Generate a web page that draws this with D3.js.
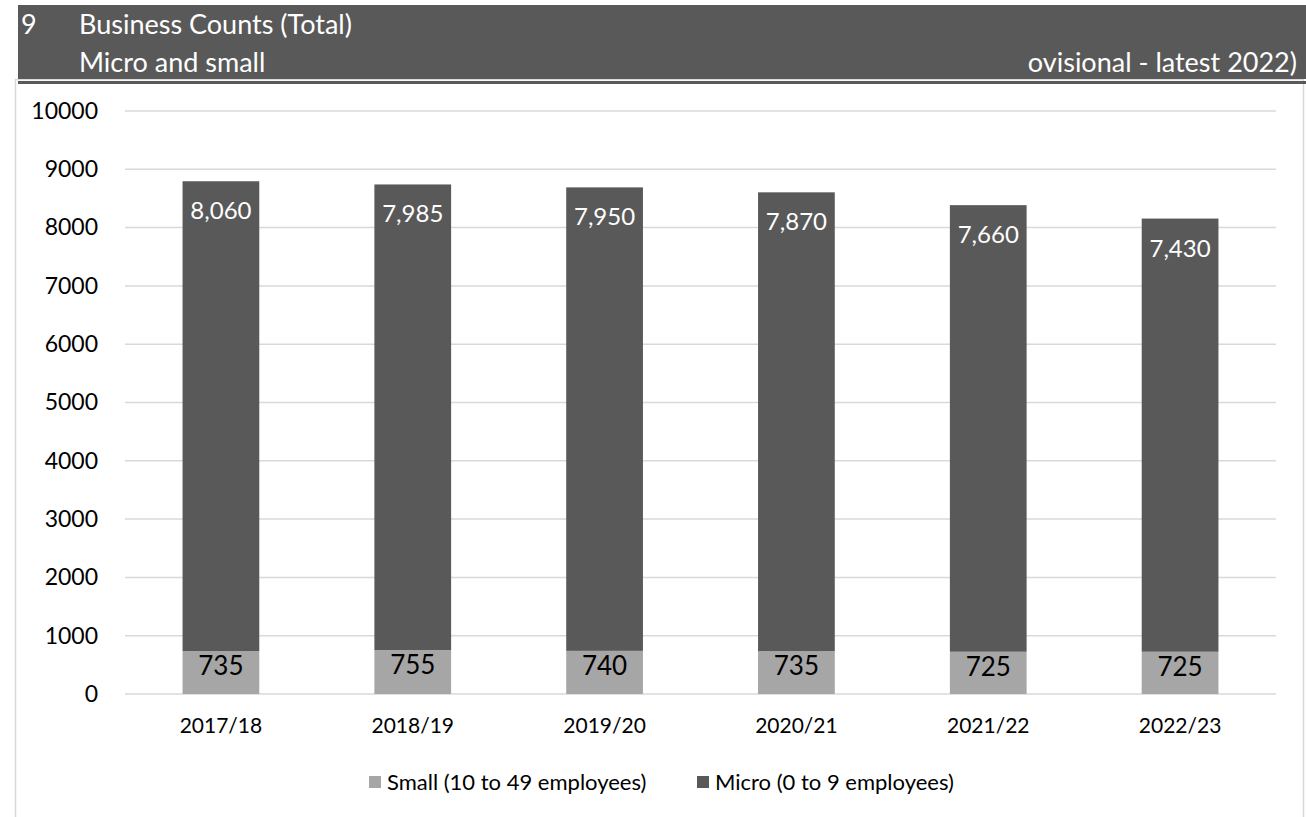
<!DOCTYPE html>
<html>
<head>
<meta charset="utf-8">
<script src="https://cdn.jsdelivr.net/npm/d3@7"></script>
<style>
  html, body { margin: 0; padding: 0; background: #ffffff; }
  svg { display: block; font-family: Lato, "Open Sans", sans-serif; }
</style>
</head>
<body>
<svg id="chart" width="1306" height="817"></svg>
<script>
// ---- data ----
const categories = ["2017/18", "2018/19", "2019/20", "2020/21", "2021/22", "2022/23"];
const smallValues = [735, 755, 740, 735, 725, 725];
const microValues = [8060, 7985, 7950, 7870, 7660, 7430];
const seriesNames = ["Small (10 to 49 employees)", "Micro (0 to 9 employees)"];
const yTicks = [0, 1000, 2000, 3000, 4000, 5000, 6000, 7000, 8000, 9000, 10000];
const titleNumber = "9";
const titleLine1 = "Business Counts (Total)";
const titleLine2 = "Micro and small";
const titleRight = "ovisional - latest 2022)";

// ---- layout ----
const W = 1306, H = 817;
const svg = d3.select("#chart");
const plot = { left: 125, right: 1276, top: 111, bottom: 694 };
const colSmall = "#a6a6a6", colMicro = "#595959", header = "#595959";

// chart frame
svg.append("rect")
  .attr("x", 15.5).attr("y", 79.5)
  .attr("width", 1288).attr("height", 745)
  .attr("fill", "#ffffff").attr("stroke", "#d9d9d9").attr("stroke-width", 1.5);

// header band
svg.append("rect").attr("x", 18).attr("y", 5).attr("width", W - 18).attr("height", 74).attr("fill", header);
svg.append("rect").attr("x", 18).attr("y", 81).attr("width", W - 18).attr("height", 3).attr("fill", header);

const hdr = svg.append("g").attr("fill", "#ffffff").style("font-size", "27px");
hdr.append("text").attr("x", 21).attr("y", 34).text(titleNumber);
hdr.append("text").attr("x", 79).attr("y", 34).text(titleLine1);
hdr.append("text").attr("x", 79).attr("y", 72).text(titleLine2);
hdr.append("text").attr("x", 1297).attr("y", 72).attr("text-anchor", "end").text(titleRight);

// ---- scales ----
const x = d3.scaleBand().domain(categories).range([plot.left, plot.right]).paddingInner(0.6).paddingOuter(0.3);
const y = d3.scaleLinear().domain([0, 10000]).range([plot.bottom, plot.top]);

// gridlines
svg.append("g")
  .selectAll("line").data(yTicks).join("line")
  .attr("x1", plot.left).attr("x2", plot.right)
  .attr("y1", d => y(d)).attr("y2", d => y(d))
  .attr("stroke", "#d9d9d9").attr("stroke-width", 1.5);

// y axis labels
const yAxis = d3.axisLeft(y).tickValues(yTicks).tickSize(0).tickPadding(0).tickFormat(d3.format("d"));
svg.append("g").attr("transform", "translate(98,0)").call(yAxis)
  .call(g => g.select(".domain").remove())
  .call(g => g.selectAll("text").attr("fill", "#000").style("font-size", "23px").style("font-family", "Lato, sans-serif"));

// x axis labels
const xAxis = d3.axisBottom(x).tickSize(0).tickPadding(0);
svg.append("g").attr("transform", `translate(0,${plot.bottom + 24})`).call(xAxis)
  .call(g => g.select(".domain").remove())
  .call(g => g.selectAll("text").attr("fill", "#000").style("font-size", "21px").style("font-family", "Lato, sans-serif"));

// stacked data
const rows = categories.map((c, i) => ({ cat: c, small: smallValues[i], micro: microValues[i] }));
const stack = d3.stack().keys(["small", "micro"])(rows);
const colors = { small: colSmall, micro: colMicro };

const layers = svg.append("g").selectAll("g").data(stack).join("g").attr("fill", d => colors[d.key]);
layers.selectAll("rect").data(d => d).join("rect")
  .attr("x", d => x(d.data.cat))
  .attr("width", x.bandwidth())
  .attr("y", d => y(d[1]))
  .attr("height", d => y(d[0]) - y(d[1]));

// labels (inside end)
const fmt = d3.format(",");
svg.append("g").selectAll("text").data(stack[1]).join("text")
  .attr("x", d => x(d.data.cat) + x.bandwidth() / 2)
  .attr("y", d => y(d[1]) + 38)
  .attr("text-anchor", "middle").attr("fill", "#ffffff").style("font-size", "24px")
  .text(d => fmt(d.data.micro));
svg.append("g").selectAll("text").data(stack[0]).join("text")
  .attr("x", d => x(d.data.cat) + x.bandwidth() / 2)
  .attr("y", d => y(d[1]) + 24)
  .attr("text-anchor", "middle").attr("fill", "#000000").style("font-size", "26px")
  .text(d => fmt(d.data.small));

// legend
const legend = svg.append("g").style("font-size", "22px");
const legendX = [369, 697];
seriesNames.forEach((name, i) => {
  const g = legend.append("g").attr("transform", `translate(${legendX[i]},776)`);
  g.append("rect").attr("width", 12).attr("height", 12).attr("fill", i === 0 ? colSmall : colMicro);
  g.append("text").attr("x", 18).attr("y", 14).attr("fill", "#000").text(name);
});
</script>
</body>
</html>
